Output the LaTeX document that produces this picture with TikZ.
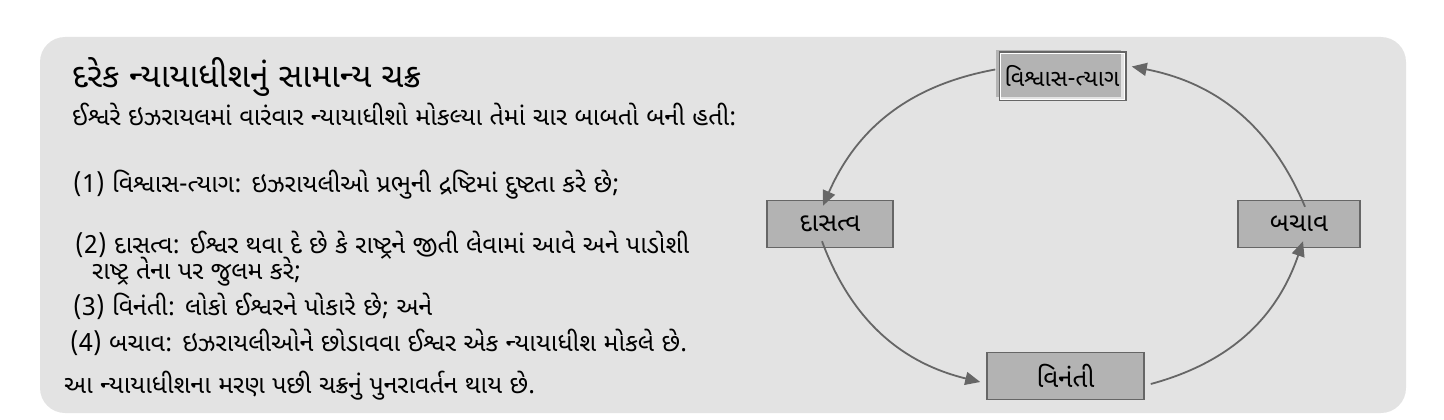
\documentclass[tikz,border=0pt]{standalone}
\usepackage{fontspec}
\newfontfamily\guj[Script=Gujarati]{Noto Sans Gujarati UI}
\usetikzlibrary{arrows.meta}
\definecolor{panel}{HTML}{E3E3E3}
\definecolor{boxfill}{HTML}{B3B3B3}
\definecolor{edge}{HTML}{666666}
\tikzstyle{stage} = [draw=edge, line width=1.5pt, fill=boxfill, minimum height=47pt, inner sep=0pt, font=\guj\fontsize{26}{30}\selectfont]
\tikzstyle{arrow} = [draw=edge, line width=1.8pt, -{Triangle[length=15pt,width=13pt]}]
\tikzstyle{txt} = [anchor=base west, inner sep=0pt, font=\guj\fontsize{25}{29}\selectfont]

\begin{document}
\begin{tikzpicture}[x=1pt,y=-1pt]
			\useasboundingbox (0,0) rectangle (1444,420);
			\fill[panel, rounded corners=25pt] (40,37) rectangle (1406,413);
			
			% left text
			\node[txt, font=\guj\fontsize{33.5}{38}\selectfont](h) at (72,88){દરેક ન્યાયાધીશનું સામાન્ય ચક્ર};
			\node[txt](l0) at (72,125){ઈશ્વરે ઇઝરાયલમાં વારંવાર ન્યાયાધીશો મોકલ્યા તેમાં ચાર બાબતો બની હતી:};
			\node[txt](l1) at (73,192){(1) વિશ્વાસ-ત્યાગ: ઇઝરાયલીઓ પ્રભુની દ્રષ્ટિમાં દુષ્ટતા કરે છે;};
			\node[txt](l2) at (75,253){(2) દાસત્વ: ઈશ્વર થવા દે છે કે રાષ્ટ્રને જીતી લેવામાં આવે અને પાડોશી};
			\node[txt](l2b) at (92,279){રાષ્ટ્ર તેના પર જુલમ કરે;};
			\node[txt](l3) at (73,315){(3) વિનંતી: લોકો ઈશ્વરને પોકારે છે; અને};
			\node[txt](l4) at (70,351){(4) બચાવ: ઇઝરાયલીઓને છોડાવવા ઈશ્વર એક ન્યાયાધીશ મોકલે છે.};
			\node[txt](l5) at (64,393){આ ન્યાયાધીશના મરણ પછી ચક્રનું પુનરાવર્તન થાય છે.};
			
			% cycle
			\node[stage, draw=none, minimum width=125pt](t) at (1058.5,73.5){};
			\draw[white, line width=1pt] ([shift={(5.5,4.5)}]t.north west) rectangle ([shift={(2.5,1.5)}]t.south east);
			\draw[edge, line width=1.5pt] ([shift={(4,3)}]t.north west) rectangle ([shift={(4,3)}]t.south east);
			\node[font=\guj\fontsize{23.5}{27}\selectfont] at (1062,76){વિશ્વાસ-ત્યાગ};
			\node[stage, minimum width=126pt](d) at (830,224){દાસત્વ};
			\node[stage, minimum width=122pt](b) at (1299,224){બચાવ};
			\node[stage, minimum width=157pt](v) at (1065.5,376){વિનંતી};
			
			\draw[arrow] ([yshift=4pt]t.west) to[bend right=28] ([xshift=-7pt,yshift=-6pt]d.north);
			\draw[arrow] ([xshift=-8pt,yshift=7pt]d.south) to[bend right=28] ([xshift=-6pt,yshift=-6pt]v.west);
			\draw[arrow] ([xshift=6pt,yshift=-8pt]v.east) to[bend right=28] ([xshift=4pt,yshift=7pt]b.south);
			\draw[arrow] ([xshift=6pt,yshift=-7pt]b.north) to[bend right=28] ([xshift=10pt,yshift=7pt]t.east);
		\end{tikzpicture}
\end{document}
